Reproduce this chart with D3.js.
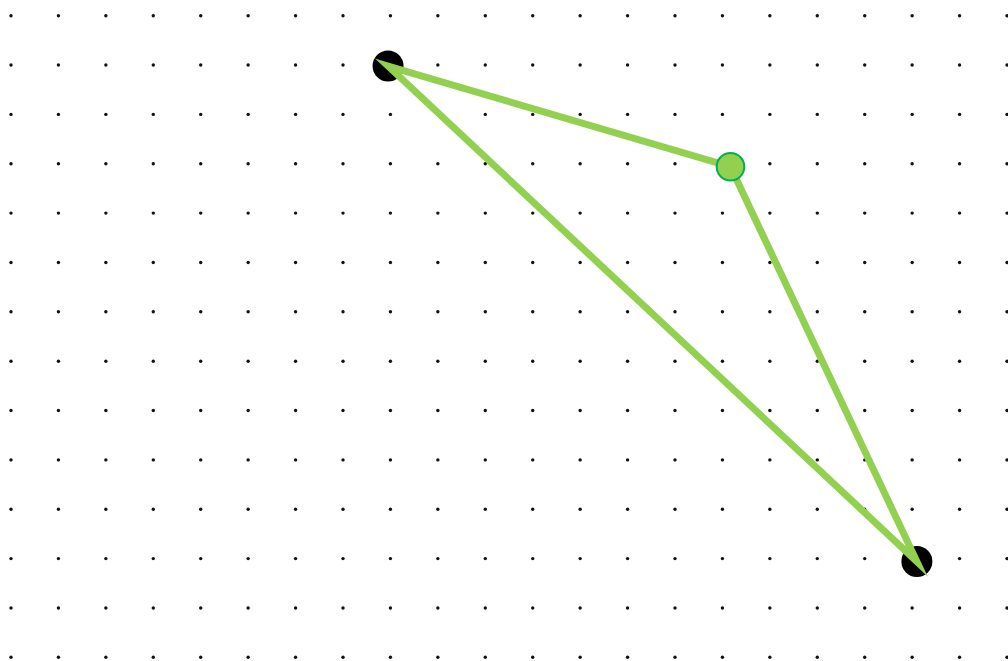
<!DOCTYPE html>
<html>
<head>
<meta charset="utf-8">
<script src="https://cdn.jsdelivr.net/npm/d3@7"></script>
<style>
  html, body { margin: 0; padding: 0; background: #fff; }
  svg { display: block; }
</style>
</head>
<body>
<svg id="chart"></svg>
<script>
// grid of dots, in grid units
const gridCols = d3.range(0, 22)
const gridRows = d3.range(0, 14)

// triangle vertices (grid units)
const pointNames = ['A', 'B', 'C']
const pointX = [7.95, 15.17, 19.10]
const pointY = [1.02, 3.06, 11.06]
const pointKind = ['fixed', 'free', 'fixed']

const WIDTH = 1008
const HEIGHT = 661

const svg = d3.select('#chart')
  .attr('width', WIDTH)
  .attr('height', HEIGHT)

const xScale = d3.scaleLinear().domain([0, 21]).range([11, 1007])
const yScale = d3.scaleLinear().domain([0, 13]).range([15.7, 657.3])

// dots
const dots = []
gridRows.forEach(r => gridCols.forEach(c => dots.push([c, r])))
svg.append('g').classed('grid', true)
  .selectAll('circle')
  .data(dots)
  .join('circle')
  .attr('cx', d => xScale(d[0]))
  .attr('cy', d => yScale(d[1]))
  .attr('r', 1.7)
  .attr('fill', '#111')

const points = pointNames.map((n, i) => ({ name: n, x: pointX[i], y: pointY[i], kind: pointKind[i] }))

// black (fixed) points under the lines
svg.append('g')
  .selectAll('circle')
  .data(points.filter(p => p.kind === 'fixed'))
  .join('circle')
  .attr('cx', d => xScale(d.x))
  .attr('cy', d => yScale(d.y))
  .attr('r', 15.5)
  .attr('fill', '#000')

let lineGenerator = d3.line()
  .x(d => xScale(d.x))
  .y(d => yScale(d.y))
  .curve(d3.curveLinearClosed)

svg.append('path')
  .attr('d', lineGenerator(points))
  .attr('fill', 'none')
  .attr('stroke', '#92D050')
  .attr('stroke-width', 7)
  .attr('stroke-linejoin', 'miter')
  .attr('stroke-miterlimit', 10)

// green (free) point on top
svg.append('g')
  .selectAll('circle')
  .data(points.filter(p => p.kind === 'free'))
  .join('circle')
  .attr('cx', d => xScale(d.x))
  .attr('cy', d => yScale(d.y))
  .attr('r', 13.8)
  .attr('fill', '#92D050')
  .attr('stroke', '#00B050')
  .attr('stroke-width', 2)
</script>
</body>
</html>
